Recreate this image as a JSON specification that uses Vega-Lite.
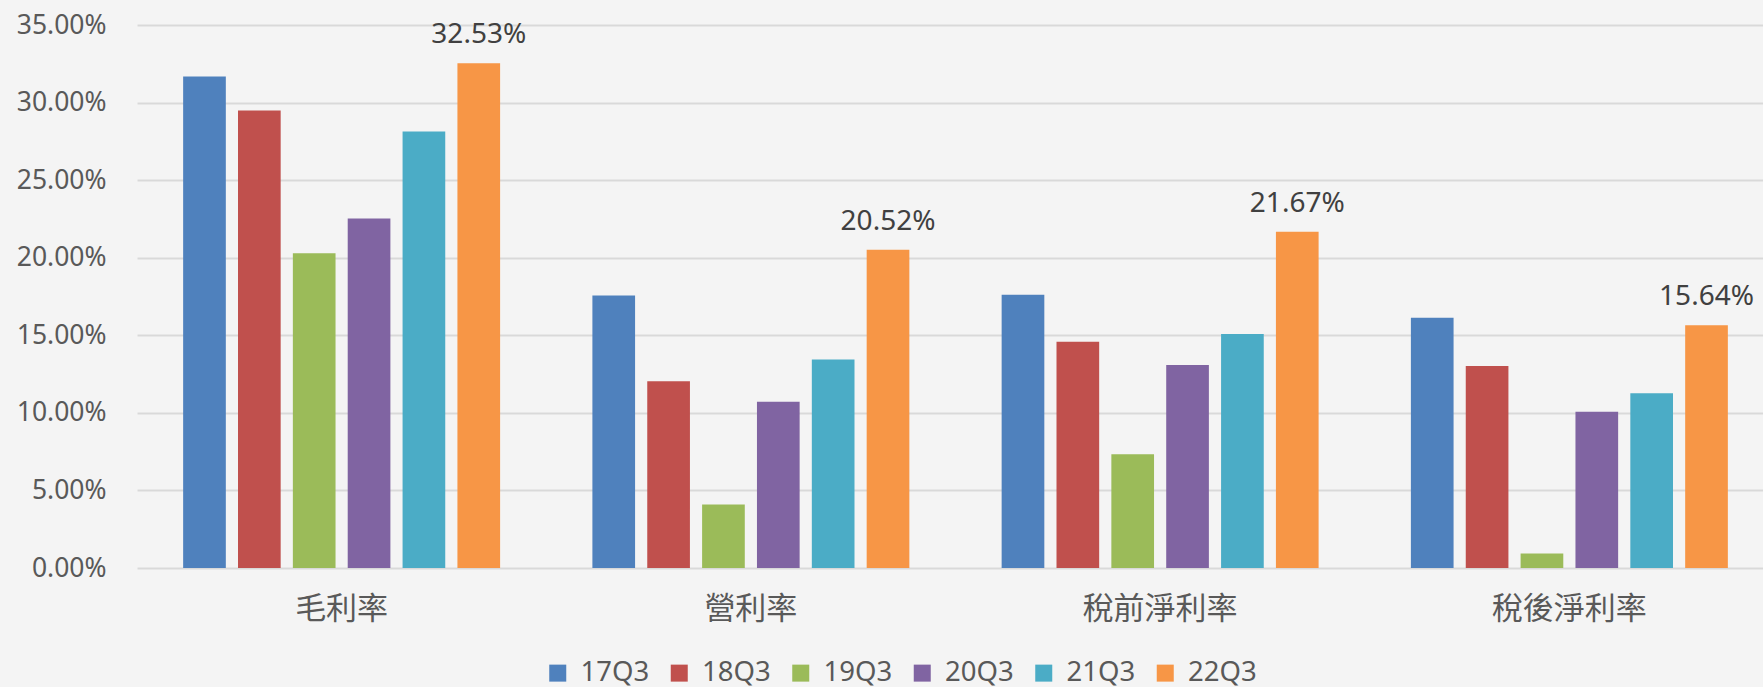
{
  "$schema": "https://vega.github.io/schema/vega-lite/v6.json",
  "autosize": {"type": "none"},
  "width": 1626,
  "height": 543,
  "padding": {"left": 137, "top": 25, "right": 0, "bottom": 119},
  "background": "#f4f4f4",
  "config": {"view": {"stroke": null}, "font": "Noto Sans"},
  "data": {"values": [
    {"metric": "毛利率", "period": "17Q3", "value": 0.3168},
    {"metric": "毛利率", "period": "18Q3", "value": 0.2949},
    {"metric": "毛利率", "period": "19Q3", "value": 0.2028},
    {"metric": "毛利率", "period": "20Q3", "value": 0.2252},
    {"metric": "毛利率", "period": "21Q3", "value": 0.2814},
    {"metric": "毛利率", "period": "22Q3", "value": 0.3253},
    {"metric": "營利率", "period": "17Q3", "value": 0.1756},
    {"metric": "營利率", "period": "18Q3", "value": 0.1204},
    {"metric": "營利率", "period": "19Q3", "value": 0.0410},
    {"metric": "營利率", "period": "20Q3", "value": 0.1071},
    {"metric": "營利率", "period": "21Q3", "value": 0.1344},
    {"metric": "營利率", "period": "22Q3", "value": 0.2052},
    {"metric": "稅前淨利率", "period": "17Q3", "value": 0.1762},
    {"metric": "稅前淨利率", "period": "18Q3", "value": 0.1458},
    {"metric": "稅前淨利率", "period": "19Q3", "value": 0.0733},
    {"metric": "稅前淨利率", "period": "20Q3", "value": 0.1308},
    {"metric": "稅前淨利率", "period": "21Q3", "value": 0.1508},
    {"metric": "稅前淨利率", "period": "22Q3", "value": 0.2167},
    {"metric": "稅後淨利率", "period": "17Q3", "value": 0.1613},
    {"metric": "稅後淨利率", "period": "18Q3", "value": 0.1302},
    {"metric": "稅後淨利率", "period": "19Q3", "value": 0.0093},
    {"metric": "稅後淨利率", "period": "20Q3", "value": 0.1007},
    {"metric": "稅後淨利率", "period": "21Q3", "value": 0.1127},
    {"metric": "稅後淨利率", "period": "22Q3", "value": 0.1564}
  ]},
  "encoding": {
    "x": {
      "field": "metric", "type": "nominal", "sort": null,
      "scale": {"range": [0, 1637], "paddingInner": 0.2255, "paddingOuter": 0.11275},
      "axis": {
        "title": null, "domain": false, "ticks": false, "tickSize": 0, "grid": false,
        "labelAngle": 0, "labelFont": "Noto Sans CJK TC", "labelFontSize": 31,
        "labelColor": "#595959", "labelBaseline": "middle", "labelPadding": 41
      }
    },
    "xOffset": {
      "field": "period", "type": "nominal", "sort": null,
      "scale": {"paddingInner": 0.222, "paddingOuter": 0}
    },
    "y": {
      "field": "value", "type": "quantitative",
      "scale": {"domain": [0, 0.35], "nice": false},
      "axis": {
        "title": null, "format": ".2%", "values": [0, 0.05, 0.1, 0.15, 0.2, 0.25, 0.3, 0.35],
        "domain": false, "ticks": false, "tickSize": 0,
        "gridColor": "#d9d9d9", "gridWidth": 2,
        "labelFont": "Noto Sans", "labelFontSize": 26.5, "labelColor": "#595959",
        "labelPadding": 31, "labelBaseline": "middle"
      }
    }
  },
  "layer": [
    {
      "mark": {"type": "bar"},
      "encoding": {
        "color": {
          "field": "period", "type": "nominal", "sort": null,
          "scale": {
            "domain": ["17Q3", "18Q3", "19Q3", "20Q3", "21Q3", "22Q3"],
            "range": ["#4F81BD", "#C0504D", "#9BBB59", "#8064A2", "#4BACC6", "#F79646"]
          },
          "legend": {
            "title": null, "orient": "none", "direction": "horizontal", "columns": 6,
            "legendX": 407, "legendY": 634, "padding": 0,
            "symbolType": "square", "symbolSize": 289, "symbolStrokeWidth": 0,
            "labelFont": "Noto Sans", "labelFontSize": 27.5, "labelColor": "#595959",
            "labelOffset": 9, "columnPadding": 15.5
          }
        }
      }
    },
    {
      "transform": [{"filter": "datum.period === '22Q3'"}],
      "mark": {"type": "text", "baseline": "alphabetic", "dy": -20, "fontSize": 28, "color": "#404040", "font": "Noto Sans"},
      "encoding": {
        "text": {"field": "value", "type": "quantitative", "format": ".2%"}
      }
    }
  ]
}
